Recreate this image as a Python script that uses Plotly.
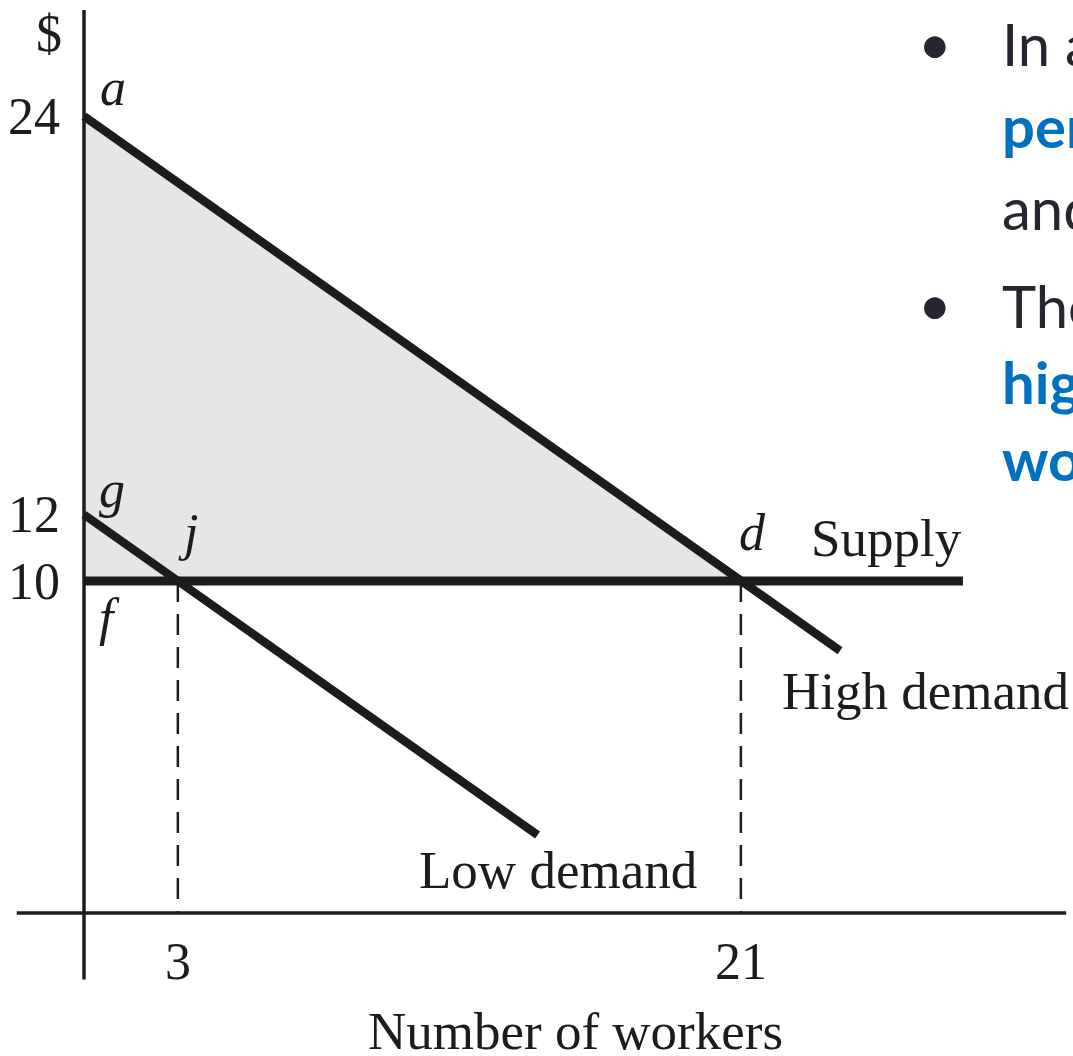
import plotly.graph_objects as go

# ---- data ----
high_demand_x = [0, 21, 24.17]
high_demand_y = [24, 10, 7.9]
low_demand_x = [0, 3, 14.5]
low_demand_y = [12, 10, 2.35]
supply_x = [0, 28.1]
supply_y = [10, 10]
surplus_x = [0, 21, 0, 0]
surplus_y = [24, 10, 10, 24]
x_ticks = [3, 21]
x_tick_labels = ["3", "21"]
y_ticks = [24, 12, 10]
y_tick_labels = ["24", "12", "10"]
axis_y_extent = [-2.0, 27.2]
axis_x_extent = [-2.15, 31.4]
point_labels = ["a", "g", "j", "f", "d"]
point_x = [0.93, 0.9, 3.32, 0.83, 21.36]
point_y = [24.85, 12.75, 11.45, 8.9, 11.45]
bullet_lines = [
    ("In a", False), ("per", True), ("and", False),
    ("The", False), ("hig", True), ("wo", True),
]
bullet_line_px = [43, 125, 207, 305, 381, 458]
bullet_dot_px = [42, 304]

INK = "#1c1c1c"
SERIF = "Liberation Serif, Times New Roman, serif"
SANS = "Lato, Open Sans, sans-serif"
W, H = 1073, 1056

fig = go.Figure()

# shaded surplus triangle
fig.add_trace(go.Scatter(x=surplus_x, y=surplus_y, mode="lines", fill="toself",
                         fillcolor="#e6e6e6", line=dict(width=0), hoverinfo="skip"))
# dashed guides
for xv, yv in [(3, 10), (21, 10)]:
    fig.add_trace(go.Scatter(x=[xv, xv], y=[yv, 0], mode="lines",
                             line=dict(color=INK, width=2.5, dash="21px,12px")))
# axes
fig.add_trace(go.Scatter(x=[0, 0], y=axis_y_extent, mode="lines", line=dict(color=INK, width=3.5)))
fig.add_trace(go.Scatter(x=axis_x_extent, y=[0, 0], mode="lines", line=dict(color=INK, width=3.5)))
# curves
fig.add_trace(go.Scatter(x=supply_x, y=supply_y, mode="lines", line=dict(color=INK, width=9)))
fig.add_trace(go.Scatter(x=high_demand_x, y=high_demand_y, mode="lines", line=dict(color=INK, width=8.5)))
fig.add_trace(go.Scatter(x=low_demand_x, y=low_demand_y, mode="lines", line=dict(color=INK, width=8.5)))

ann = []
def A(text, x, y, size=52, xanchor="center", italic=False, font=SERIF, color=INK, xref="x", yref="y"):
    ann.append(dict(text=(f"<i>{text}</i>" if italic else text), x=x, y=y, xref=xref, yref=yref,
                    showarrow=False, xanchor=xanchor, yanchor="middle",
                    font=dict(family=font, size=size, color=color)))

A("$", -1.12, 26.5)
for v, t in zip(y_ticks, y_tick_labels):
    A(t, -0.7, v, xanchor="right")
for v, t in zip(x_ticks, x_tick_labels):
    A(t, v, -1.45)
for t, xv, yv in zip(point_labels, point_x, point_y):
    A(t, xv, yv, italic=True)
A("Supply", 25.67, 11.3, size=53)
A("High demand", 26.89, 6.7, size=53)
A("Low demand", 15.15, 1.3, size=53)
A("Number of workers", 15.7, -3.55, size=53)

for (t, bold), py in zip(bullet_lines, bullet_line_px):
    A(f"<b>{t}</b>" if bold else t, 1000 / W, 1 - py / H, size=58, xanchor="left", font=SANS,
      color="#0070C0" if bold else "#262630", xref="paper", yref="paper")
for py in bullet_dot_px:
    A("•", 935 / W, 1 - py / H, size=58, font=SANS, color="#262630", xref="paper", yref="paper")

fig.update_layout(
    width=W, height=H, margin=dict(l=0, r=0, t=0, b=0),
    paper_bgcolor="white", plot_bgcolor="white", showlegend=False,
    xaxis=dict(range=[-84 / 31.28, (W - 84) / 31.28], visible=False, fixedrange=True),
    yaxis=dict(range=[(913 - H) / 33.2, 913 / 33.2], visible=False, fixedrange=True),
    annotations=ann,
)

fig.write_html("out.html", config={"displayModeBar": False},
               post_script="document.body.style.margin='0';document.body.style.overflow='hidden';")
